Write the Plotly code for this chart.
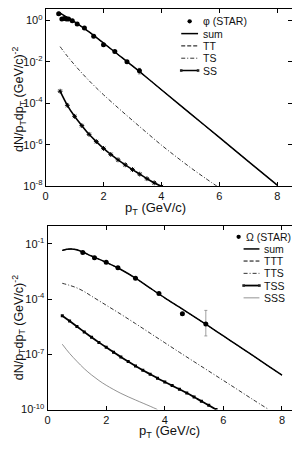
import plotly.graph_objects as go

# ---------------- top panel (phi) ----------------
phi_x = [0.45, 0.56, 0.64, 0.72, 0.79, 0.92, 1.09, 1.34, 1.66, 2.0, 2.39, 2.81, 3.24]
phi_y = [2.09, 1.15, 1.23, 1.15, 1.15, 0.955, 0.66, 0.427, 0.17, 0.066, 0.0316, 0.0100, 0.0037]
phi_err = [0, 0, 0, 0, 0, 0, 0, 0, 0, 0, 0, 0, 0.0011]

sum_phi_x = [0.45, 0.7, 1.0, 1.5, 2.0, 2.5, 3.0, 3.5, 4.0, 5.0, 6.0, 7.0, 8.0]
sum_phi_y = [2.51, 1.51, 0.851, 0.275, 0.0794, 0.0224, 0.0063, 0.0017, 4.47e-4, 3.16e-5, 2.24e-6, 1.58e-7, 1.12e-8]
tt_phi_y = [2.45, 1.49, 0.845, 0.274, 0.0792, 0.0223, 0.0063, 0.0017, 4.46e-4, 3.15e-5, 2.23e-6, 1.58e-7, 1.12e-8]

ts_phi_x = [0.5, 0.75, 1.0, 1.25, 1.5, 1.75, 2.0, 2.5, 3.0, 3.5, 4.0, 4.5, 5.0, 5.5, 6.0]
ts_phi_y = [0.0537, 0.0186, 7.08e-3, 2.88e-3, 1.23e-3, 5.5e-4, 2.57e-4, 6.03e-5, 1.48e-5,
            3.72e-6, 9.55e-7, 2.69e-7, 7.94e-8, 2.51e-8, 8.3e-9]

ss_phi_x = [0.5, 0.75, 1.0, 1.25, 1.5, 1.75, 2.0, 2.25, 2.5, 2.75, 3.0, 3.25, 3.5, 3.75, 4.0]
ss_phi_y = [3.80e-4, 7.94e-5, 2.34e-5, 8.32e-6, 3.16e-6, 1.41e-6, 6.61e-7, 3.39e-7, 1.86e-7,
            1.07e-7, 6.31e-8, 3.80e-8, 2.29e-8, 1.45e-8, 9.55e-9]

# ---------------- bottom panel (Omega) ----------------
om_x = [1.2, 1.6, 2.0, 2.4, 3.0, 3.8, 4.6, 5.4]
om_y = [0.0347, 0.0178, 0.0102, 0.0050, 0.00135, 2.0e-4, 1.62e-5, 4.4e-6]
om_err_plus = [0, 0, 0, 0, 0, 0, 0, 2.0e-5]
om_err_minus = [0, 0, 0, 0, 0, 0, 0, 3.4e-6]

sum_om_x = [0.5, 0.65, 0.8, 1.0, 1.2, 1.5, 2.0, 2.5, 3.0, 3.5, 4.0, 4.5, 5.0, 5.5, 6.0, 6.5, 7.0, 7.5, 8.0]
sum_om_y = [0.0447, 0.0513, 0.0537, 0.0479, 0.0363, 0.0219, 0.0100, 4.07e-3, 1.38e-3, 3.98e-4,
            1.17e-4, 3.63e-5, 1.12e-5, 3.39e-6, 1.0e-6, 2.95e-7, 8.71e-8, 2.51e-8, 7.41e-9]
ttt_om_y = [0.0440, 0.0506, 0.0531, 0.0474, 0.0360, 0.0217, 0.00993, 4.04e-3, 1.37e-3, 3.96e-4,
            1.16e-4, 3.61e-5, 1.11e-5, 3.37e-6, 9.95e-7, 2.93e-7, 8.67e-8, 2.50e-8, 7.38e-9]

tts_om_x = [0.5, 0.75, 1.0, 1.25, 1.5, 2.0, 2.5, 3.0, 3.5, 4.0, 4.5, 5.0, 5.5, 6.0, 6.5, 7.0, 7.55]
tts_om_y = [7.24e-4, 5.62e-4, 4.07e-4, 2.57e-4, 1.45e-4, 4.68e-5, 1.51e-5, 4.68e-6, 1.41e-6,
            4.27e-7, 1.29e-7, 3.98e-8, 1.23e-8, 3.80e-9, 1.17e-9, 3.55e-10, 1.0e-10]

tss_om_x = [0.5, 0.75, 1.0, 1.25, 1.5, 1.75, 2.0, 2.25, 2.5, 2.75, 3.0, 3.25, 3.5, 3.75,
            4.0, 4.25, 4.5, 4.75, 5.0, 5.25, 5.5, 5.75]
tss_om_y = [1.26e-5, 6.46e-6, 3.24e-6, 1.66e-6, 8.51e-7, 4.47e-7, 2.40e-7, 1.32e-7, 7.24e-8,
            4.07e-8, 2.34e-8, 1.38e-8, 8.32e-9, 5.01e-9, 3.16e-9, 2.0e-9, 1.26e-9, 7.94e-10,
            4.79e-10, 2.82e-10, 1.70e-10, 1.0e-10]

sss_om_x = [0.5, 0.75, 1.0, 1.25, 1.5, 1.75, 2.0, 2.5, 3.0, 3.5, 3.75]
sss_om_y = [3.55e-7, 1.12e-7, 4.17e-8, 1.66e-8, 7.59e-9, 3.80e-9, 2.09e-9, 7.59e-10, 3.31e-10, 1.51e-10, 1.0e-10]

# tick labels
x_tickvals = [0, 2, 4, 6, 8]
x_ticktext = ["0", "2", "4", "6", "8"]
top_y_tickvals = [1, 1e-2, 1e-4, 1e-6, 1e-8]
top_y_ticktext = ["10<sup>0</sup>", "10<sup>-2</sup>", "10<sup>-4</sup>", "10<sup>-6</sup>", "10<sup>-8</sup>"]
bot_y_tickvals = [1e-1, 1e-4, 1e-7, 1e-10]
bot_y_ticktext = ["10<sup>-1</sup>", "10<sup>-4</sup>", "10<sup>-7</sup>", "10<sup>-10</sup>"]

top_legend = ["\u03c6 (STAR)", "sum", "TT", "TS", "SS"]
bot_legend = ["\u03a9 (STAR)", "sum", "TTT", "TTS", "TSS", "SSS"]

# The page body has an 8px margin, so the figure is laid out 8px smaller
# and all page-pixel positions below are shifted by OFF.
OFF = 8
W, H = 300 - OFF, 450 - OFF
FONT = "Liberation Sans, Arial, sans-serif"
DASHDOT = "4px,2px,1px,2px"


def px(x):
    return (x - OFF) / W


def py(y):
    return 1 - (y - OFF) / H


fig = go.Figure()

# top traces
fig.add_trace(go.Scatter(x=sum_phi_x, y=tt_phi_y, mode="lines", line=dict(color="black", width=1, dash="4px,2px", shape="spline"), xaxis="x", yaxis="y"))
fig.add_trace(go.Scatter(x=ts_phi_x, y=ts_phi_y, mode="lines", line=dict(color="#333", width=1, dash=DASHDOT, shape="spline"), xaxis="x", yaxis="y"))
fig.add_trace(go.Scatter(x=ss_phi_x, y=ss_phi_y, mode="lines+markers", line=dict(color="black", width=1.6, shape="spline"),
                         marker=dict(symbol="asterisk-open", size=4, line=dict(color="#222", width=1)), xaxis="x", yaxis="y"))
fig.add_trace(go.Scatter(x=sum_phi_x, y=sum_phi_y, mode="lines", line=dict(color="black", width=1.5, shape="spline"), xaxis="x", yaxis="y"))
fig.add_trace(go.Scatter(x=phi_x, y=phi_y, mode="markers", marker=dict(color="black", size=5),
                         error_y=dict(type="data", array=phi_err, color="#666", thickness=0.8, width=1.5), xaxis="x", yaxis="y"))

# bottom traces
fig.add_trace(go.Scatter(x=sum_om_x, y=ttt_om_y, mode="lines", line=dict(color="black", width=1, dash="4px,2px", shape="spline"), xaxis="x2", yaxis="y2"))
fig.add_trace(go.Scatter(x=tts_om_x, y=tts_om_y, mode="lines", line=dict(color="#333", width=1, dash=DASHDOT, shape="spline"), xaxis="x2", yaxis="y2"))
fig.add_trace(go.Scatter(x=tss_om_x, y=tss_om_y, mode="lines+markers", line=dict(color="black", width=1.8, shape="spline"),
                         marker=dict(symbol="square", size=3, color="black"), xaxis="x2", yaxis="y2"))
fig.add_trace(go.Scatter(x=sss_om_x, y=sss_om_y, mode="lines", line=dict(color="#777", width=0.8, shape="spline"), xaxis="x2", yaxis="y2"))
fig.add_trace(go.Scatter(x=sum_om_x, y=sum_om_y, mode="lines", line=dict(color="black", width=1.5, shape="spline"), xaxis="x2", yaxis="y2"))
fig.add_trace(go.Scatter(x=om_x, y=om_y, mode="markers", marker=dict(color="black", size=5),
                         error_y=dict(type="data", array=om_err_plus, arrayminus=om_err_minus, color="#888", thickness=0.8, width=1.5),
                         xaxis="x2", yaxis="y2"))

axis_common = dict(showline=True, linecolor="black", linewidth=1, mirror="ticks", ticks="inside", ticklen=4,
                   tickcolor="black", showgrid=False, zeroline=False,
                   tickfont=dict(family=FONT, size=11, color="#111"))

fig.update_layout(
    width=W, height=H, margin=dict(l=0, r=0, t=0, b=0),
    paper_bgcolor="white", plot_bgcolor="white", showlegend=False,
    xaxis=dict(domain=[px(43), px(291.6)], range=[0, 8.5], anchor="y", tickvals=x_tickvals, ticktext=x_ticktext, **axis_common),
    yaxis=dict(domain=[py(188), 1.0], type="log", range=[-8, 0.546], anchor="x",
               tickvals=top_y_tickvals, ticktext=top_y_ticktext, **axis_common),
    xaxis2=dict(domain=[px(45), px(296.6)], range=[0, 8.5], anchor="y2", tickvals=x_tickvals, ticktext=x_ticktext, **axis_common),
    yaxis2=dict(domain=[py(415), py(228)], type="log", range=[-10, 0], anchor="x2",
                tickvals=bot_y_tickvals, ticktext=bot_y_ticktext, **axis_common),
)

ann = []
shapes = []

# axis titles
ann.append(dict(text="p<sub>T</sub> (GeV/c)", x=px(154), y=py(211), xref="paper", yref="paper", showarrow=False,
                font=dict(family=FONT, size=13, color="#111"), xanchor="center", yanchor="middle"))
ann.append(dict(text="p<sub>T</sub> (GeV/c)", x=px(168), y=py(437), xref="paper", yref="paper", showarrow=False,
                font=dict(family=FONT, size=13, color="#111"), xanchor="center", yanchor="middle"))
ylab = "dN/p<sub>T</sub>dp<sub>T</sub> (GeV/c)<sup>-2</sup>"
ann.append(dict(text=ylab, x=px(15.5), y=py(100), xref="paper", yref="paper", showarrow=False, textangle=-90,
                font=dict(family=FONT, size=12.5, color="#111"), xanchor="center", yanchor="middle"))
ann.append(dict(text=ylab, x=px(15.5), y=py(332), xref="paper", yref="paper", showarrow=False, textangle=-90,
                font=dict(family=FONT, size=12.5, color="#111"), xanchor="center", yanchor="middle"))

LEG_SIZE = 10.5


def legend_block(labels, rows, x0, x1, tx, styles, first_tx=None, dot_x=None):
    for i, (lab, ry, st) in enumerate(zip(labels, rows, styles)):
        t_x = first_tx if (i == 0 and first_tx is not None) else tx
        ann.append(dict(text=lab, x=px(t_x), y=py(ry), xref="paper", yref="paper", showarrow=False,
                        font=dict(family=FONT, size=LEG_SIZE, color="#111"), xanchor="left", yanchor="middle"))
        kind = st[0]
        if kind == "dot":
            cx = dot_x if dot_x is not None else (x0 + x1) / 2
            shapes.append(dict(type="circle", xref="paper", yref="paper", x0=px(cx - 2.2), x1=px(cx + 2.2),
                               y0=py(ry + 2.2), y1=py(ry - 2.2), fillcolor="black", line=dict(width=0)))
        else:
            shapes.append(dict(type="line", xref="paper", yref="paper", x0=px(x0), x1=px(x1), y0=py(ry), y1=py(ry),
                               line=dict(color=st[1], width=st[2], dash=st[3])))
            if kind == "mk":
                for xx in (x0, x1):
                    shapes.append(dict(type="rect", xref="paper", yref="paper", x0=px(xx - 1.3), x1=px(xx + 1.3),
                                       y0=py(ry + 1.3), y1=py(ry - 1.3), fillcolor="#222", line=dict(width=0)))


top_rows = [20.5, 33.0, 45.5, 58.0, 70.5]
top_styles = [("dot",), ("line", "black", 1.5, "solid"), ("line", "black", 1, "4px,2px"),
              ("line", "#333", 1, DASHDOT), ("mk", "black", 1.5, "solid")]
legend_block(top_legend, top_rows, 180, 197, 200, top_styles)

bot_rows = [239.5, 251.8, 264.1, 276.6, 289.0, 301.5]
bot_styles = [("dot",), ("line", "black", 1.5, "solid"), ("line", "black", 1, "4px,2px"),
              ("line", "#333", 1, DASHDOT), ("mk", "black", 1.8, "solid"), ("line", "#777", 0.8, "solid")]
legend_block(bot_legend, bot_rows, 243, 259, 262, bot_styles, first_tx=243, dot_x=238)

fig.update_layout(annotations=ann, shapes=shapes)
fig.write_html("out.html")
